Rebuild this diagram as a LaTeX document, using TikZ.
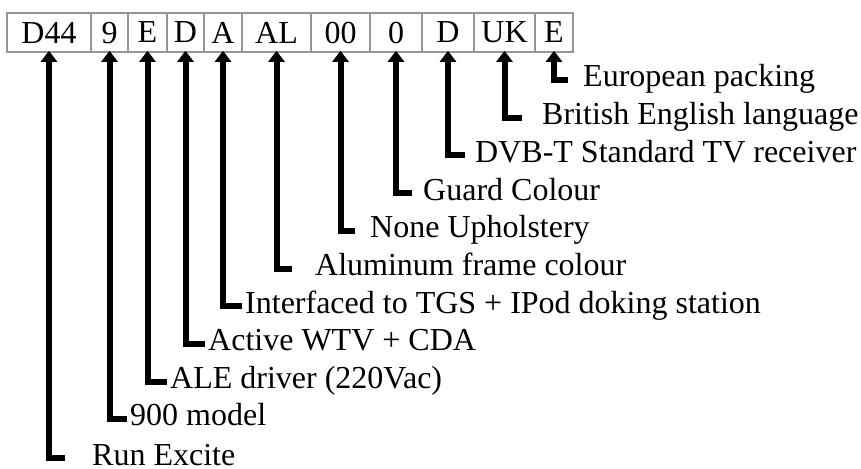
\documentclass[tikz,border=0pt]{standalone}
\usepackage{fontspec}
\setmainfont{Liberation Serif}
\usetikzlibrary{arrows.meta}
\begin{document}
\begin{tikzpicture}[x=1pt,y=-1pt,
  cell/.style={draw={rgb,255:red,150;green,150;blue,150}, line width=1.6pt, minimum height=39pt, text depth=0pt, inner sep=0pt, font=\fontsize{32}{36}\selectfont},
  lbl/.style={anchor=base west, inner sep=0pt, font=\fontsize{32}{36}\selectfont},
  arr/.style={line width=6pt, -{Triangle[width=16pt,length=11pt]}}]
\useasboundingbox (0,0) rectangle (861,468);
% code cells
\node[cell, minimum width=84pt] (c1) at (49,32.5) {D44};
\node[cell, minimum width=37pt] (c2) at (109.5,32.5) {9};
\node[cell, minimum width=39pt] (c3) at (147.5,32.5) {E};
\node[cell, minimum width=37pt] (c4) at (185.5,32.5) {D};
\node[cell, minimum width=38pt] (c5) at (223,32.5) {A};
\node[cell, minimum width=69pt] (c6) at (276.5,32.5) {AL};
\node[cell, minimum width=59pt] (c7) at (340.5,32.5) {00};
\node[cell, minimum width=52pt] (c8) at (396,32.5) {0};
\node[cell, minimum width=52pt] (c9) at (448,32.5) {D};
\node[cell, minimum width=61pt] (c10) at (504.5,32.5) {UK};
\node[cell, minimum width=38pt] (c11) at (554,32.5) {E};
% labels
\node[lbl] (l11) at (583,87) {European packing};
\node[lbl] (l10) at (542,124.7) {British English language};
\node[lbl] (l9) at (475,162.4) {DVB-T Standard TV receiver};
\node[lbl] (l8) at (423,200.1) {Guard Colour};
\node[lbl] (l7) at (370,237.8) {None Upholstery};
\node[lbl] (l6) at (315,275.5) {Aluminum frame colour};
\node[lbl] (l5) at (245,313.2) {Interfaced to TGS + IPod doking station};
\node[lbl] (l4) at (208,350.9) {Active WTV + CDA};
\node[lbl] (l3) at (170,388.6) {ALE driver (220Vac)};
\node[lbl] (l2) at (130,425.8) {900 model};
\node[lbl] (l1) at (92,465) {Run Excite};
% elbow ends
\coordinate (e11) at (568,80);
\coordinate (e10) at (522,117.7);
\coordinate (e9) at (465,155.4);
\coordinate (e8) at (412,193.1);
\coordinate (e7) at (355,230.8);
\coordinate (e6) at (292,268.5);
\coordinate (e5) at (242,306.2);
\coordinate (e4) at (205,343.9);
\coordinate (e3) at (167,381.6);
\coordinate (e2) at (127,418.5);
\coordinate (e1) at (65,457.5);
% arrows
\foreach \i in {1,...,11} {
  \draw[arr] (e\i) -| ([yshift=2pt]c\i.south);
}
\end{tikzpicture}
\end{document}
